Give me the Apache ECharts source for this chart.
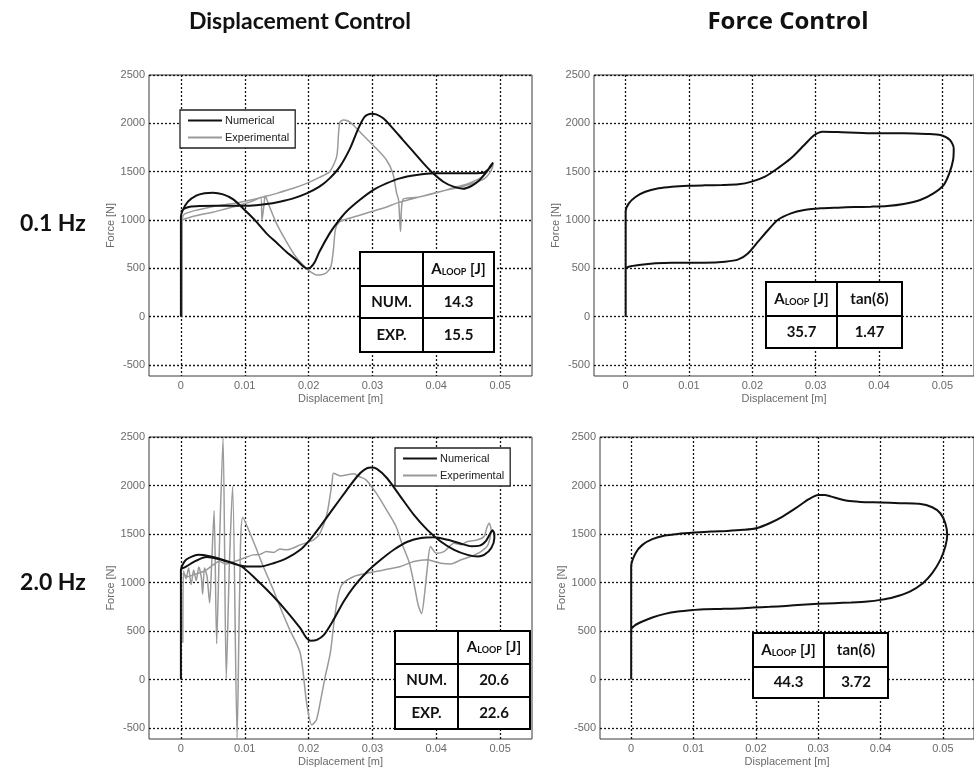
<!DOCTYPE html>
<html>
<head>
<meta charset="utf-8">
<script src="https://cdn.jsdelivr.net/npm/echarts@6/dist/echarts.min.js"></script>
<style>
  html, body { margin: 0; padding: 0; background: #fff; }
  #chart { width: 974px; height: 771px; }
</style>
</head>
<body>
<div id="chart"></div>
<script>
// Axis ticks shared by all four panels
const xTicks = [0, 0.01, 0.02, 0.03, 0.04, 0.05];
const yTicks = [-500, 0, 500, 1000, 1500, 2000, 2500];

// 0.1 Hz, displacement control: numerical loop [displacement m, force N]
const disp01Num = [
  [0, 0], [0, 1034], [0.0003, 1103], [0.0011, 1190], [0.0024, 1252], [0.0037, 1276], [0.0050, 1283],
  [0.0066, 1265], [0.0082, 1214], [0.0100, 1103], [0.0118, 983], [0.0134, 862], [0.0150, 765],
  [0.0165, 672], [0.0181, 586], [0.0191, 524], [0.0197, 500], [0.0203, 510], [0.0210, 569],
  [0.0217, 672], [0.0233, 862], [0.0244, 966], [0.0259, 1086], [0.0280, 1207], [0.0301, 1310],
  [0.0322, 1379], [0.0343, 1431], [0.0369, 1465], [0.0395, 1483], [0.0447, 1483], [0.0474, 1490],
  [0.0483, 1534], [0.0489, 1595], [0.0485, 1560], [0.0479, 1500], [0.0468, 1414], [0.0455, 1352],
  [0.0442, 1324], [0.0427, 1345], [0.0411, 1396], [0.0395, 1483], [0.0380, 1586], [0.0364, 1707],
  [0.0348, 1827], [0.0332, 1948], [0.0317, 2052], [0.0306, 2093], [0.0298, 2100], [0.0288, 2069],
  [0.0278, 1948], [0.0265, 1741], [0.0249, 1552], [0.0233, 1431], [0.0217, 1345], [0.0197, 1276],
  [0.0176, 1224], [0.0155, 1190], [0.0134, 1165], [0.0108, 1148], [0.0082, 1148], [0.0055, 1148],
  [0.0029, 1145], [0.0014, 1138], [0.0006, 1120], [0, 1086]
];

// 0.1 Hz, displacement control: experimental loop
const disp01Exp = [
  [0.0002, 0], [0.0002, 990], [0.0010, 1020], [0.0030, 1055], [0.0050, 1080], [0.0070, 1115],
  [0.0090, 1150], [0.0110, 1190], [0.0125, 1232], [0.0127, 1000], [0.0130, 1150], [0.0132, 1250],
  [0.0138, 1150], [0.0150, 960], [0.0165, 780], [0.0180, 620], [0.0195, 510], [0.0205, 455],
  [0.0212, 432], [0.0220, 435], [0.0228, 455], [0.0235, 520], [0.0239, 700], [0.0242, 900],
  [0.0248, 980], [0.0260, 1010], [0.0280, 1050], [0.0300, 1090], [0.0320, 1130], [0.0340, 1180],
  [0.0360, 1215], [0.0380, 1250], [0.0400, 1285], [0.0420, 1315], [0.0440, 1345], [0.0460, 1385],
  [0.0475, 1425], [0.0483, 1480], [0.0488, 1540], [0.0489, 1580], [0.0485, 1555], [0.0480, 1500],
  [0.0470, 1440], [0.0460, 1405], [0.0445, 1365], [0.0430, 1340], [0.0410, 1300], [0.0390, 1265],
  [0.0370, 1235], [0.0348, 1215], [0.0344, 880], [0.0341, 1207], [0.0338, 1276], [0.0332, 1483],
  [0.0322, 1621], [0.0306, 1741], [0.0285, 1879], [0.0270, 1983], [0.0262, 2024], [0.0254, 2034],
  [0.0249, 2010], [0.0247, 1900], [0.0244, 1655], [0.0233, 1500], [0.0217, 1441], [0.0197, 1379],
  [0.0176, 1328], [0.0150, 1276], [0.0133, 1245], [0.0115, 1215], [0.0090, 1180], [0.0060, 1150],
  [0.0040, 1125], [0.0020, 1095], [0.0005, 1060], [0.0002, 1010]
];

// 0.1 Hz, force control loop
const force01 = [
  [0, 0], [0, 1090], [0.0005, 1172], [0.0016, 1241], [0.0031, 1293], [0.0052, 1328], [0.0073, 1345],
  [0.0099, 1355], [0.0125, 1359], [0.0152, 1362], [0.0178, 1369], [0.0199, 1397], [0.0220, 1448],
  [0.0240, 1534], [0.0261, 1638], [0.0282, 1776], [0.0298, 1879], [0.0311, 1914], [0.0335, 1910],
  [0.0387, 1897], [0.0439, 1897], [0.0476, 1890], [0.0497, 1879], [0.0512, 1828], [0.0518, 1741],
  [0.0517, 1621], [0.0511, 1483], [0.0502, 1362], [0.0486, 1276], [0.0465, 1207], [0.0439, 1166],
  [0.0413, 1145], [0.0387, 1138], [0.0361, 1134], [0.0335, 1128], [0.0308, 1121], [0.0282, 1103],
  [0.0261, 1069], [0.0240, 1000], [0.0225, 897], [0.0209, 776], [0.0193, 655], [0.0178, 593],
  [0.0157, 569], [0.0125, 559], [0.0073, 559], [0.0047, 552], [0.0021, 534], [0.0005, 517], [0, 500]
];

// 2.0 Hz, displacement control: numerical loop
const disp20Num = [
  [0, 0], [0, 1130], [0.0008, 1234], [0.0027, 1285], [0.0045, 1270], [0.0070, 1225], [0.0095, 1165],
  [0.0119, 1027], [0.0145, 856], [0.0166, 701], [0.0187, 529], [0.0197, 426], [0.0203, 400],
  [0.0213, 409], [0.0224, 460], [0.0239, 615], [0.0255, 804], [0.0271, 958], [0.0292, 1113],
  [0.0313, 1234], [0.0334, 1340], [0.0355, 1420], [0.0376, 1460], [0.0397, 1467], [0.0418, 1440],
  [0.0439, 1400], [0.0455, 1375], [0.0468, 1380], [0.0478, 1430], [0.0485, 1510], [0.0488, 1540],
  [0.0491, 1500], [0.0491, 1457], [0.0486, 1354], [0.0475, 1285], [0.0465, 1268], [0.0449, 1285],
  [0.0428, 1337], [0.0407, 1423], [0.0386, 1543], [0.0365, 1697], [0.0344, 1886], [0.0323, 2075],
  [0.0307, 2172], [0.0297, 2185], [0.0287, 2161], [0.0276, 2093], [0.0260, 1955], [0.0239, 1766],
  [0.0218, 1577], [0.0202, 1440], [0.0187, 1337], [0.0166, 1251], [0.0145, 1199], [0.0124, 1165],
  [0.0103, 1165], [0.0085, 1190], [0.0060, 1240], [0.0040, 1262], [0.0024, 1225], [0.0008, 1165],
  [0, 1140]
];

// 2.0 Hz, displacement control: experimental loop
const disp20Exp = [
  [0.0003, 380], [0.0004, 1120], [0.0008, 1040], [0.0012, 1150], [0.0016, 980], [0.0020, 1130],
  [0.0024, 1020], [0.0028, 1160], [0.0032, 1050], [0.0034, 880], [0.0037, 1150], [0.0041, 1060],
  [0.0045, 790], [0.0048, 1170], [0.0052, 1740], [0.0056, 370], [0.0060, 1300], [0.0066, 2490],
  [0.0071, 10], [0.0076, 1200], [0.0081, 1990], [0.0088, -600], [0.0092, 900], [0.0097, 1670],
  [0.0115, 1400], [0.0130, 1150], [0.0145, 920], [0.0155, 752], [0.0170, 520], [0.0187, 271],
  [0.0197, -244], [0.0205, -467], [0.0212, -420], [0.0218, -244], [0.0226, 30], [0.0234, 271],
  [0.0240, 600], [0.0245, 821], [0.0252, 976], [0.0271, 1062], [0.0292, 1096], [0.0318, 1130],
  [0.0344, 1165], [0.0365, 1216], [0.0386, 1234], [0.0397, 1216], [0.0407, 1199], [0.0423, 1192],
  [0.0439, 1234], [0.0454, 1268], [0.0470, 1319], [0.0481, 1388], [0.0486, 1543], [0.0483, 1611],
  [0.0479, 1560], [0.0475, 1474], [0.0465, 1440], [0.0449, 1423], [0.0439, 1390], [0.0428, 1405],
  [0.0412, 1319], [0.0400, 1302], [0.0391, 1371], [0.0386, 1150], [0.0382, 900], [0.0377, 680],
  [0.0372, 760], [0.0366, 958], [0.0358, 1199], [0.0346, 1405], [0.0337, 1577], [0.0322, 1749],
  [0.0306, 1921], [0.0290, 2058], [0.0279, 2093], [0.0271, 2120], [0.0260, 2110], [0.0250, 2099],
  [0.0239, 2127], [0.0237, 2041], [0.0229, 1714], [0.0218, 1508], [0.0208, 1440], [0.0187, 1388],
  [0.0166, 1337], [0.0155, 1345], [0.0145, 1310], [0.0134, 1319], [0.0124, 1290], [0.0113, 1285],
  [0.0102, 1260], [0.0090, 1230], [0.0080, 1210], [0.0070, 1190], [0.0060, 1220], [0.0050, 1180],
  [0.0040, 1130], [0.0030, 1100], [0.0020, 1080], [0.0010, 1060], [0.0004, 1100]
];

// 2.0 Hz, force control loop
const force20 = [
  [0, 0], [0, 1165], [0.0007, 1302], [0.0018, 1388], [0.0034, 1447], [0.0054, 1484], [0.0075, 1501],
  [0.0102, 1515], [0.0128, 1526], [0.0154, 1532], [0.0180, 1543], [0.0201, 1560], [0.0222, 1611],
  [0.0243, 1680], [0.0264, 1766], [0.0285, 1859], [0.0300, 1903], [0.0311, 1903], [0.0326, 1876],
  [0.0347, 1842], [0.0368, 1831], [0.0400, 1825], [0.0431, 1818], [0.0462, 1811], [0.0483, 1776],
  [0.0496, 1714], [0.0504, 1611], [0.0507, 1491], [0.0504, 1371], [0.0496, 1233], [0.0483, 1096],
  [0.0468, 993], [0.0447, 907], [0.0421, 849], [0.0400, 821], [0.0379, 804], [0.0353, 794],
  [0.0326, 787], [0.0300, 780], [0.0274, 770], [0.0248, 759], [0.0222, 749], [0.0196, 742],
  [0.0170, 732], [0.0143, 728], [0.0117, 725], [0.0102, 718], [0.0075, 701], [0.0054, 677],
  [0.0034, 639], [0.0018, 598], [0.0007, 563], [0, 522]
];

// Loop energy tables
const loopDisp01 = [['NUM.', '14.3'], ['EXP.', '15.5']];
const loopDisp20 = [['NUM.', '20.6'], ['EXP.', '22.6']];
const loopForce01 = ['35.7', '1.47'];
const loopForce20 = ['44.3', '3.72'];

const columnTitles = ['Displacement Control', 'Force Control'];
const rowTitles = ['0.1 Hz', '2.0 Hz'];

const chart = echarts.init(document.getElementById('chart'), null, { renderer: 'canvas' });

const AXIS_FONT = 'Liberation Sans, Arial, sans-serif';
const BOLD_FONT = 'Lato, Open Sans, sans-serif';
const AXIS_GRAY = '#6a6a6a';

const gridBoxes = [
  { left: 149, top: 75, width: 383, height: 301 },
  { left: 594, top: 75, width: 384, height: 301 },
  { left: 149, top: 437, width: 383, height: 302 },
  { left: 600, top: 437, width: 383, height: 302 }
];

const grids = gridBoxes.map(b => Object.assign({
  show: true, borderColor: '#3a3a3a', borderWidth: 1, containLabel: false
}, b));

const gridLine = { show: true, lineStyle: { color: '#151515', width: 1.3, type: [2, 2] } };

const xAxes = gridBoxes.map((b, i) => ({
  type: 'value', gridIndex: i, min: -0.005, max: 0.055,
  axisLine: { show: false },
  axisTick: { show: false, customValues: xTicks },
  splitLine: gridLine,
  axisLabel: {
    customValues: xTicks, color: AXIS_GRAY, fontSize: 11, fontFamily: AXIS_FONT, margin: 4,
    formatter: v => String(+v.toFixed(3))
  },
  name: 'Displacement [m]', nameLocation: 'middle', nameGap: 17,
  nameTextStyle: { color: AXIS_GRAY, fontSize: 11, fontFamily: AXIS_FONT }
}));

const yAxes = gridBoxes.map((b, i) => ({
  type: 'value', gridIndex: i, min: -613, max: 2500,
  axisLine: { show: false },
  axisTick: { show: false, customValues: yTicks },
  splitLine: gridLine,
  axisLabel: {
    customValues: yTicks, color: AXIS_GRAY, fontSize: 11, fontFamily: AXIS_FONT, margin: 4,
    formatter: v => String(v)
  },
  name: 'Force [N]', nameLocation: 'middle', nameGap: 32,
  nameTextStyle: { color: AXIS_GRAY, fontSize: 11, fontFamily: AXIS_FONT }
}));

function loop(name, idx, data, color, width) {
  return {
    name: name, type: 'line', xAxisIndex: idx, yAxisIndex: idx, data: data,
    symbol: 'none', smooth: 0.25, lineStyle: { color: color, width: width },
    itemStyle: { color: color }, z: name === 'Experimental' ? 2 : 3
  };
}

const series = [
  loop('Experimental', 0, disp01Exp, '#9a9a9a', 1.5),
  loop('Numerical', 0, disp01Num, '#111111', 2),
  loop('Force', 1, force01, '#111111', 2),
  loop('Experimental', 2, disp20Exp, '#9a9a9a', 1.5),
  loop('Numerical', 2, disp20Num, '#111111', 2),
  loop('Force', 3, force20, '#111111', 2)
];

function legendAt(left, top) {
  return {
    orient: 'vertical', left: left, top: top, data: ['Numerical', 'Experimental'],
    icon: 'rect', itemWidth: 34, itemHeight: 2, itemGap: 6,
    padding: [5, 6, 5, 8], backgroundColor: '#fff',
    borderColor: '#222', borderWidth: 1.3, selectedMode: false,
    textStyle: { fontSize: 11, color: '#222', fontFamily: AXIS_FONT, padding: [0, 0, 0, -2] }
  };
}

// Table drawing helpers
const cellFont = { fontFamily: BOLD_FONT, fontWeight: 'bold', fontSize: 15, fill: '#111' };
const aloopRich = {
  a: { fontFamily: BOLD_FONT, fontWeight: 'bold', fontSize: 15, color: '#111' },
  s: { fontFamily: BOLD_FONT, fontWeight: 'bold', fontSize: 9, color: '#111', padding: [6, 0, 0, 0] }
};

function cellText(cx, cy, text, rich) {
  const style = Object.assign({ x: cx, y: cy, text: text, align: 'center', verticalAlign: 'middle' }, cellFont);
  if (rich) style.rich = aloopRich;
  return { type: 'text', style: style, z: 20 };
}

function hLine(x1, x2, y) {
  return { type: 'line', shape: { x1: x1, y1: y, x2: x2, y2: y }, style: { stroke: '#000', lineWidth: 2 }, z: 19 };
}
function vLine(x, y1, y2) {
  return { type: 'line', shape: { x1: x, y1: y1, x2: x, y2: y2 }, style: { stroke: '#000', lineWidth: 2 }, z: 19 };
}
function box(x0, y0, x1, y1) {
  return { type: 'rect', shape: { x: x0, y: y0, width: x1 - x0, height: y1 - y0 },
    style: { fill: '#fff', stroke: '#000', lineWidth: 2 }, z: 18 };
}

const ALOOP = '{a|A}{s|LOOP}{a| [J]}';

// Three-row table: header + NUM./EXP. rows
function dispTable(x0, y0, xc, x1, r1, r2, y1, rows) {
  const items = [box(x0, y0, x1, y1), vLine(xc, y0, y1), hLine(x0, x1, r1), hLine(x0, x1, r2)];
  items.push(cellText((xc + x1) / 2, (y0 + r1) / 2, ALOOP, true));
  const rowY = [(r1 + r2) / 2, (r2 + y1) / 2];
  rows.forEach((r, i) => {
    items.push(cellText((x0 + xc) / 2, rowY[i], r[0]));
    items.push(cellText((xc + x1) / 2, rowY[i], r[1]));
  });
  return items;
}

// Two-row table: header (A_LOOP, tan) + values
function forceTable(x0, y0, xc, x1, r1, y1, vals) {
  const items = [box(x0, y0, x1, y1), vLine(xc, y0, y1), hLine(x0, x1, r1)];
  items.push(cellText((x0 + xc) / 2, (y0 + r1) / 2, ALOOP, true));
  items.push(cellText((xc + x1) / 2, (y0 + r1) / 2, 'tan(δ)'));
  items.push(cellText((x0 + xc) / 2, (r1 + y1) / 2, vals[0]));
  items.push(cellText((xc + x1) / 2, (r1 + y1) / 2, vals[1]));
  return items;
}

const titleStyle = { fontFamily: BOLD_FONT, fontWeight: 'bold', fontSize: 23, fill: '#111', align: 'center', verticalAlign: 'middle' };
const graphics = [
  { type: 'text', style: Object.assign({}, titleStyle, { x: 300, y: 22, text: columnTitles[0] }) },
  { type: 'text', style: Object.assign({}, titleStyle, { x: 788, y: 22, text: columnTitles[1], fontFamily: 'Open Sans, sans-serif', fontSize: 24 }) },
  { type: 'text', style: Object.assign({}, titleStyle, { x: 53, y: 224, text: rowTitles[0] }) },
  { type: 'text', style: Object.assign({}, titleStyle, { x: 53, y: 583, text: rowTitles[1] }) }
]
  .concat(dispTable(360, 252, 423, 494, 286, 318, 352, loopDisp01))
  .concat(forceTable(766, 282, 837, 902, 316, 348, loopForce01))
  .concat(dispTable(395, 631, 458, 530, 664, 697, 729, loopDisp20))
  .concat(forceTable(753, 633, 824, 888, 667, 698, loopForce20));

chart.setOption({
  animation: false,
  backgroundColor: '#fff',
  grid: grids,
  xAxis: xAxes,
  yAxis: yAxes,
  legend: [legendAt(180, 110), legendAt(395, 448)],
  series: series,
  graphic: graphics
});
</script>
</body>
</html>
